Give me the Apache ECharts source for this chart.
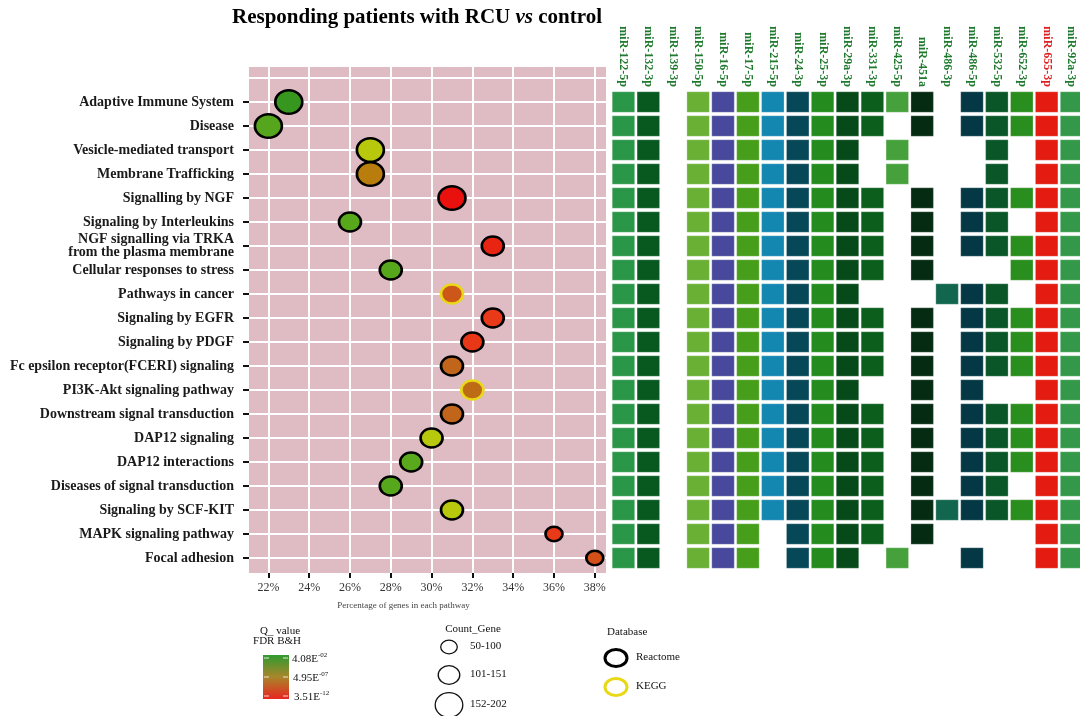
<!DOCTYPE html>
<html><head><meta charset="utf-8">
<script src="https://cdn.jsdelivr.net/npm/echarts@6/dist/echarts.min.js"></script>
<style>html,body{margin:0;padding:0;background:#fff}#c{width:1080px;height:716px}</style>
</head><body><div id="c"></div>
<script>
// ---------------- data ----------------
const pathways = ['Adaptive Immune System','Disease','Vesicle-mediated transport','Membrane Trafficking','Signalling by NGF','Signaling by Interleukins','NGF signalling via TRKA\nfrom the plasma membrane','Cellular responses to stress','Pathways in cancer','Signaling by EGFR','Signaling by PDGF','Fc epsilon receptor(FCERI) signaling','PI3K-Akt signaling pathway','Downstream signal transduction','DAP12 signaling','DAP12 interactions','Diseases of signal transduction','Signaling by SCF-KIT','MAPK signaling pathway','Focal adhesion'];
const genePct = [23,22,27,27,31,26,33,28,31,33,32,31,32,31,30,29,28,31,36,38];
const log10Q = [-1.5,-2.9,-4.74,-6.4,-11.4,-3.07,-10.6,-3.0,-8.6,-9.8,-9.9,-8.0,-7.6,-8.0,-4.74,-3.1,-3.0,-4.74,-9.8,-8.9];
const countGene = ['152-202','152-202','152-202','152-202','152-202','101-151','101-151','101-151','101-151','101-151','101-151','101-151','101-151','101-151','101-151','101-151','101-151','101-151','50-100','50-100'];
const database = ['Reactome','Reactome','Reactome','Reactome','Reactome','Reactome','Reactome','Reactome','KEGG','Reactome','Reactome','Reactome','KEGG','Reactome','Reactome','Reactome','Reactome','Reactome','Reactome','Reactome'];
const xTicks = [22,24,26,28,30,32,34,36,38];
const mirnas = ['miR-122-5p','miR-132-3p','miR-139-3p','miR-150-5p','miR-16-5p','miR-17-5p','miR-215-5p','miR-24-3p','miR-25-3p','miR-29a-3p','miR-331-3p','miR-425-5p','miR-451a','miR-486-3p','miR-486-5p','miR-532-5p','miR-652-3p','miR-655-3p','miR-92a-3p'];
// 1 = miRNA targets genes of the pathway (rows in pathway order, columns in miRNA order)
const targets = [
 '1101111111111011111',
 '1101111111101011111',
 '1101111111010001011',
 '1101111111010001011',
 '1101111111101011111',
 '1101111111101011011',
 '1101111111101011111',
 '1101111111101000111',
 '1101111111000111011',
 '1101111111101011111',
 '1101111111101011111',
 '1101111111101011111',
 '1101111111001010011',
 '1101111111101011111',
 '1101111111101011111',
 '1101111111101011111',
 '1101111111101011011',
 '1101111111101111111',
 '1101110111101000011',
 '1101110111010010011'
];
const countClasses = ['50-100','101-151','152-202'];
const databases = ['Reactome','KEGG'];
const qLegendLabels = ['4.08E-02','4.95E-07','3.51E-12'];
const qRange = [-11.45, -1.39];
const redMirna = 'miR-655-3p';

// ---------------- styles ----------------
const serif = "'Liberation Serif','Times New Roman',serif";
const sizeByClass = {'50-100':[17,14.5],'101-151':[22,19],'152-202':[27,23.5]};
const borderByDb = {'Reactome':'#000000','KEGG':'#e8d818'};
const qColors = ['#e8100e','#e83a18','#c0641a','#b87c0c','#b8c80c','#58a81c','#35951e'];
const mirColors = ['#2a9648','#07591f','#ffffff','#6ab035','#48489c','#479e1a','#1487b0','#074858','#248c1e','#064a1a','#0b5e1c','#46a03c','#052c12','#12664e','#033844','#0a5628','#2a8e1e','#e31b10','#34984a'];

const bubbleData = pathways.map((p, i) => ({
  value: [genePct[i], i, log10Q[i]],
  symbolSize: sizeByClass[countGene[i]],
  itemStyle: {borderColor: borderByDb[database[i]]}
}));
const cellData = [];
targets.forEach((row, i) => row.split('').forEach((c, j) => { if (c === '1') cellData.push([j, i]); }));
const rowTicks = pathways.map((p, i) => i);

// ---------------- legend graphics ----------------
const g = [];
g.push({type:'text', x:417, y:18, style:{text:'{a|Responding patients with RCU }{b|vs}{a| control}', align:'center', verticalAlign:'middle',
  rich:{a:{fontFamily:serif,fontSize:21,fontWeight:'bold',fill:'#000'}, b:{fontFamily:serif,fontSize:21,fontWeight:'bold',fontStyle:'italic',fill:'#000'}}}});
// Q value legend
g.push({type:'text', x:280, y:631, style:{text:'Q_ value', align:'center', verticalAlign:'middle', fontFamily:serif, fontSize:11, fill:'#111'}});
g.push({type:'text', x:277, y:641, style:{text:'FDR B&H', align:'center', verticalAlign:'middle', fontFamily:serif, fontSize:11, fill:'#111'}});
g.push({type:'rect', shape:{x:263,y:655,width:26,height:44}, style:{fill:new echarts.graphic.LinearGradient(0,0,0,1,[{offset:0,color:'#2f9a2f'},{offset:0.5,color:'#a8862a'},{offset:1,color:'#e82520'}])}});
const qLabelY = [659, 678, 697];
qLegendLabels.forEach((t, k) => {
  const parts = t.split('E');
  g.push({type:'line', shape:{x1:264,y1:qLabelY[k]-1,x2:269,y2:qLabelY[k]-1}, style:{stroke:'rgba(255,255,255,0.8)',lineWidth:1}});
  g.push({type:'line', shape:{x1:283,y1:qLabelY[k]-1,x2:288,y2:qLabelY[k]-1}, style:{stroke:'rgba(255,255,255,0.8)',lineWidth:1}});
  g.push({type:'text', x:292 + k, y:qLabelY[k], style:{text:'{m|' + parts[0] + 'E}{s|' + parts[1] + '}', verticalAlign:'middle',
    rich:{m:{fontFamily:serif,fontSize:11,fill:'#111',lineHeight:14}, s:{fontFamily:serif,fontSize:7,fill:'#111',verticalAlign:'top',lineHeight:14}}}});
});
// Count gene legend
g.push({type:'text', x:473, y:629, style:{text:'Count_Gene', align:'center', verticalAlign:'middle', fontFamily:serif, fontSize:11, fill:'#111'}});
const cgY = [647, 675, 705];
const cgR = [[8.3,6.8],[10.8,9.3],[13.8,12.3]];
countClasses.forEach((c, k) => {
  g.push({type:'ellipse', shape:{cx:449, cy:cgY[k], rx:cgR[k][0], ry:cgR[k][1]}, style:{fill:'none', stroke:'#111', lineWidth:1.3}});
  g.push({type:'text', x:470, y:cgY[k]-1, style:{text:c, verticalAlign:'middle', fontFamily:serif, fontSize:11, fill:'#111'}});
});
// Database legend
g.push({type:'text', x:607, y:632, style:{text:'Database', verticalAlign:'middle', fontFamily:serif, fontSize:11, fill:'#111'}});
const dbY = [658, 687];
databases.forEach((d, k) => {
  g.push({type:'ellipse', shape:{cx:616, cy:dbY[k], rx:11, ry:8.5}, style:{fill:'none', stroke:borderByDb[d], lineWidth:3}});
  g.push({type:'text', x:636, y:dbY[k]-1, style:{text:d, verticalAlign:'middle', fontFamily:serif, fontSize:11, fill:'#111'}});
});

// ---------------- chart ----------------
const chart = echarts.init(document.getElementById('c'), null, {renderer:'canvas'});
chart.setOption({
  animation: false,
  backgroundColor: '#ffffff',
  grid: [
    {left:249, top:67, width:357, height:506, show:true, backgroundColor:'#dfbcc4', borderWidth:0, outerBoundsMode:'none', containLabel:false},
    {left:611, top:90, width:473, height:480, show:false, outerBoundsMode:'none', containLabel:false}
  ],
  xAxis: [
    {type:'value', gridIndex:0, min:21.05, max:38.55, position:'bottom',
     axisLine:{show:false, onZero:false},
     axisTick:{show:true, customValues:xTicks, length:5, lineStyle:{color:'#111', width:2}},
     axisLabel:{customValues:xTicks, formatter:v => v + '%', fontFamily:serif, fontSize:12, color:'#333', margin:9},
     splitLine:{show:true, lineStyle:{color:'#ffffff', width:2}},
     name:'Percentage of genes in each pathway', nameLocation:'middle', nameGap:28,
     nameTextStyle:{fontFamily:serif, fontSize:9, color:'#444', padding:[0,48,0,0]}},
    {type:'category', gridIndex:1, data:mirnas, position:'top',
     axisLine:{show:false, onZero:false}, axisTick:{show:false},
     axisLabel:{rotate:90, interval:0, margin:3, fontFamily:serif, fontSize:12, fontWeight:'bold',
       color: v => v === redMirna ? '#e02020' : '#1f7a2e'},
     splitLine:{show:false}}
  ],
  yAxis: [
    {type:'value', gridIndex:0, inverse:true, min:-1.458, max:19.625, position:'left',
     axisLine:{show:false, onZero:false},
     axisTick:{show:true, customValues:rowTicks, length:6, lineStyle:{color:'#111', width:2}},
     axisLabel:{customValues:rowTicks, formatter:v => pathways[v], fontFamily:serif, fontSize:14, fontWeight:'bold', color:'#1a1a1a', margin:15, lineHeight:13},
     splitLine:{show:true, lineStyle:{color:'#ffffff', width:2}}},
    {type:'category', gridIndex:1, data:pathways, inverse:true, show:false}
  ],
  visualMap: {type:'continuous', show:false, seriesIndex:0, dimension:2, min:qRange[0], max:qRange[1], inRange:{color:qColors}},
  graphic: g,
  series: [
    {type:'scatter', xAxisIndex:0, yAxisIndex:0, z:3, data:bubbleData, symbol:'circle',
     itemStyle:{borderWidth:2.5, opacity:1},
     markLine:{silent:true, symbol:['none','none'], z:1, label:{show:false}, lineStyle:{color:'#ffffff', width:2, type:'solid'},
       data:[{yAxis:-1}]}},
    {type:'scatter', xAxisIndex:1, yAxisIndex:1, data:cellData, symbol:'rect', symbolSize:[22.5,20.5],
     itemStyle:{color: p => mirColors[p.data[0]], borderColor:'rgba(255,255,255,0.25)', borderWidth:1, opacity:1}}
  ]
});
</script></body></html>
